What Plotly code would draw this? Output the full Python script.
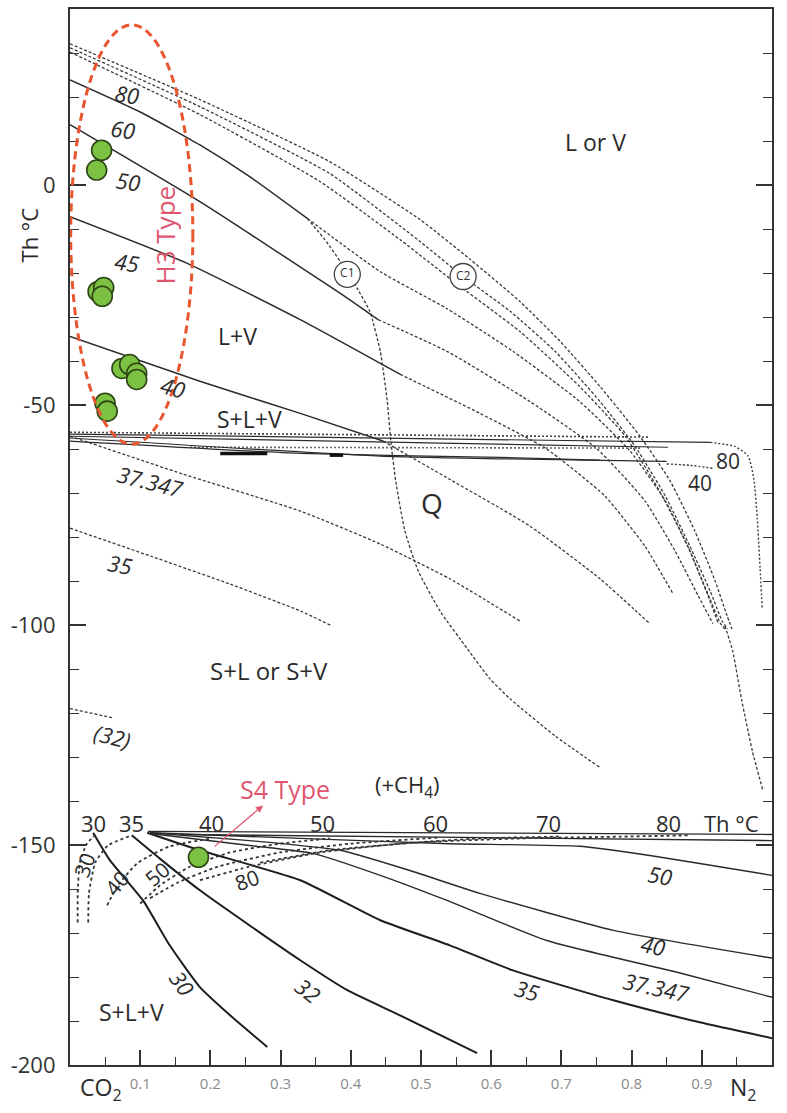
import plotly.graph_objects as go

FONT = "Open Sans"

# ---------------- data: x = mole fraction N2 (CO2 -> N2), y = Th (°C) ----------------
# fluid inclusion measurements
h3_x = [0.045, 0.038, 0.040, 0.048, 0.046, 0.074, 0.085, 0.095, 0.095, 0.050, 0.053]
h3_y = [7.9, 3.4, -24.2, -23.3, -25.3, -41.7, -40.8, -42.8, -44.2, -49.6, -51.4]
s4_x = [0.183]
s4_y = [-152.8]

# solid isochores, L+V field
iso80_x = [0.0, 0.100, 0.185, 0.256, 0.338]
iso80_y = [23.9, 16.6, 9.1, 1.9, -7.6]
iso60_x = [0.0, 0.185, 0.396, 0.439]
iso60_y = [13.7, -3.8, -25.8, -30.6]
iso45_x = [0.0, 0.167, 0.328, 0.470]
iso45_y = [-7.2, -17.8, -30.6, -43.0]
iso40_x = [0.0, 0.185, 0.328, 0.446]
iso40_y = [-34.4, -44.6, -51.9, -58.2]

# dashed curves (upper fan)
u1_x = [0.0, 0.185, 0.370, 0.499, 0.570, 0.641, 0.698, 0.755, 0.812, 0.855, 0.890, 0.919, 0.936, 0.943]
u1_y = [32.1, 19.4, 5.3, -7.9, -16.9, -26.5, -35.5, -45.8, -57.1, -67.3, -78.6, -90.0, -97.9, -100.9]
u2_x = [0.0, 0.185, 0.370, 0.499, 0.560, 0.627, 0.691, 0.755, 0.805, 0.848, 0.883, 0.912, 0.929, 0.937]
u2_y = [31.2, 17.8, 2.6, -12.9, -20.8, -28.7, -37.8, -49.2, -59.4, -70.7, -82.1, -92.3, -99.1, -100.9]
u3_x = [0.0, 0.185, 0.356, 0.470, 0.556, 0.641, 0.726, 0.791, 0.840, 0.880, 0.907, 0.926, 0.933]
u3_y = [30.2, 16.0, 0.8, -12.4, -23.1, -33.3, -45.8, -57.1, -69.6, -82.1, -92.3, -99.5, -100.9]
a_cont_x = [0.338, 0.442, 0.537, 0.631, 0.726, 0.798, 0.848, 0.883, 0.909, 0.923]
a_cont_y = [-7.6, -19.7, -28.1, -37.8, -49.2, -60.5, -71.8, -83.2, -93.4, -99.5]
b_cont_x = [0.439, 0.537, 0.655, 0.751, 0.819, 0.862, 0.895, 0.916]
b_cont_y = [-30.6, -37.8, -49.2, -60.0, -71.8, -83.2, -93.4, -99.7]
c_cont_x = [0.470, 0.584, 0.679, 0.762, 0.819, 0.859]
c_cont_y = [-43.0, -51.9, -60.0, -70.7, -82.1, -92.9]
d_cont_x = [0.446, 0.541, 0.655, 0.755, 0.826]
d_cont_y = [-58.2, -66.9, -77.5, -89.5, -99.7]
v37_x = [0.0, 0.161, 0.328, 0.442, 0.541, 0.641]
v37_y = [-57.1, -65.7, -74.1, -81.6, -89.5, -99.1]
v35_x = [0.0, 0.114, 0.228, 0.328, 0.373]
v35_y = [-78.0, -84.3, -90.7, -96.8, -100.2]
v32_x = [0.0, 0.061]
v32_y = [-119.0, -121.1]
q_x = [0.338, 0.363, 0.385, 0.395, 0.409, 0.427, 0.442, 0.452, 0.457, 0.464, 0.477, 0.496,
       0.527, 0.566, 0.598, 0.627, 0.691, 0.755]
q_y = [-7.6, -12.4, -17.4, -20.3, -23.5, -28.7, -37.8, -49.2, -58.2, -67.3, -78.6, -87.7,
       -96.8, -105.4, -112.2, -116.8, -125.2, -132.4]
r80_x = [0.912, 0.947, 0.966, 0.974, 0.979, 0.983, 0.986]
r80_y = [-58.5, -59.4, -61.6, -66.6, -75.7, -87.0, -96.1]
r40_x = [0.850, 0.883, 0.916]
r40_y = [-63.4, -63.7, -64.4]
conv_x = [0.933, 0.944, 0.957, 0.972, 0.987]
conv_y = [-100.2, -105.9, -117.2, -128.6, -137.6]

# S+L+V three-phase bundle (upper)
hdot1_x = [0.0, 0.826]; hdot1_y = [-56.2, -57.3]
hsol1_x = [0.0, 0.912]; hsol1_y = [-56.6, -58.5]
hsol2_x = [0.0, 0.852]; hsol2_y = [-57.1, -59.6]
hdot2_x = [0.171, 0.812]; hdot2_y = [-59.6, -59.8]
hsol3_x = [0.0, 0.442, 0.850]; hsol3_y = [-57.5, -61.6, -62.8]
hsol4_x = [0.0, 0.328, 0.613, 0.755]; hsol4_y = [-58.2, -61.0, -61.9, -62.5]
hbold1_x = [0.214, 0.281]; hbold1_y = [-61.0, -61.0]
hbold2_x = [0.370, 0.389]; hbold2_y = [-61.4, -61.4]

# lower solid isochores (+CH4)
l30_x = [0.033, 0.057, 0.104, 0.142, 0.185, 0.228, 0.281]
l30_y = [-147.2, -153.5, -162.6, -172.8, -182.3, -188.7, -195.9]
l32_x = [0.088, 0.128, 0.185, 0.256, 0.328, 0.395, 0.470, 0.580]
l32_y = [-147.8, -153.1, -160.3, -168.3, -176.2, -183.0, -188.7, -197.3]
l35_x = [0.110, 0.185, 0.328, 0.442, 0.541, 0.631, 0.774, 0.897, 1.0]
l35_y = [-147.2, -151.2, -158.0, -167.1, -172.8, -178.5, -185.3, -190.3, -193.9]
l37_x = [0.114, 0.256, 0.346, 0.442, 0.537, 0.679, 0.869, 1.0]
l37_y = [-147.4, -150.1, -151.9, -156.9, -162.6, -171.7, -179.1, -184.6]
l40_x = [0.114, 0.256, 0.385, 0.484, 0.584, 0.774, 1.0]
l40_y = [-147.2, -149.0, -151.2, -155.8, -161.0, -169.4, -175.7]
l50_x = [0.114, 0.328, 0.541, 0.726, 0.826, 0.897, 1.0]
l50_y = [-147.2, -148.5, -149.7, -150.3, -152.4, -154.2, -156.9]
ltop1_x = [0.111, 1.0]; ltop1_y = [-146.9, -147.6]
ltop2_x = [0.157, 1.0]; ltop2_y = [-147.6, -149.0]

# lower dotted isotherms
t1_x = [0.011, 0.011, 0.014, 0.024, 0.038]; t1_y = [-167.6, -161.0, -154.0, -149.7, -147.4]
t2_x = [0.026, 0.027, 0.036, 0.054, 0.088]; t2_y = [-167.6, -161.0, -154.0, -150.1, -147.8]
t3_x = [0.053, 0.068, 0.097, 0.142, 0.202]; t3_y = [-163.7, -159.2, -154.0, -150.3, -148.5]
t4_x = [0.100, 0.128, 0.171, 0.228, 0.299, 0.370]; t4_y = [-163.3, -159.2, -154.9, -151.7, -149.7, -148.5]
t5_x = [0.114, 0.154, 0.211, 0.299, 0.399, 0.527]; t5_y = [-162.1, -158.5, -154.9, -151.7, -149.7, -148.3]
t6_x = [0.185, 0.256, 0.356, 0.470, 0.584, 0.698]; t6_y = [-158.0, -154.9, -151.7, -149.7, -148.5, -148.1]
t7_x = [0.271, 0.370, 0.499, 0.641, 0.783, 0.883]; t7_y = [-154.0, -151.2, -149.4, -148.5, -148.1, -147.8]

# critical points
crit_x = [0.395, 0.560]
crit_y = [-20.3, -20.8]
crit_text = ["C1", "C2"]

x_tick_vals = [0.1, 0.2, 0.3, 0.4, 0.5, 0.6, 0.7, 0.8, 0.9]
x_tick_text = ["0.1", "0.2", "0.3", "0.4", "0.5", "0.6", "0.7", "0.8", "0.9"]
y_tick_vals = [-200, -150, -100, -50, 0]
y_tick_text = ["-200", "-150", "-100", "-50", "0"]

# ---------------- figure ----------------
fig = go.Figure()
INK = "#2b2b2b"


def line(xs, ys, width=1.3, dash=None, color=INK, smooth=True):
    fig.add_trace(go.Scatter(
        x=xs, y=ys, mode="lines",
        line=dict(width=width, dash=dash, color=color,
                  shape="spline" if smooth else "linear", smoothing=0.5),
        hoverinfo="skip", showlegend=False))


DASH = "3px,2px"
for xs, ys in [(u1_x, u1_y), (u2_x, u2_y), (u3_x, u3_y), (a_cont_x, a_cont_y),
               (b_cont_x, b_cont_y), (c_cont_x, c_cont_y), (d_cont_x, d_cont_y),
               (v37_x, v37_y), (v35_x, v35_y), (v32_x, v32_y), (q_x, q_y),
               (conv_x, conv_y)]:
    line(xs, ys, 1.3, DASH, "#3a3a3a")
line(r80_x, r80_y, 1.4, "2px,2px", "#3a3a3a")
line(r40_x, r40_y, 1.4, "2px,2px", "#3a3a3a")

for xs, ys in [(iso80_x, iso80_y), (iso60_x, iso60_y), (iso45_x, iso45_y), (iso40_x, iso40_y)]:
    line(xs, ys, 1.5)

line(hdot1_x, hdot1_y, 1.6, "2px,2px", "#444")
line(hsol1_x, hsol1_y, 1.2)
line(hsol2_x, hsol2_y, 1.2)
line(hdot2_x, hdot2_y, 1.6, "2px,2px", "#666")
line(hsol3_x, hsol3_y, 1.2)
line(hsol4_x, hsol4_y, 1.2)
line(hbold1_x, hbold1_y, 3.5, None, "#111")
line(hbold2_x, hbold2_y, 3.5, None, "#111")

for xs, ys in [(l30_x, l30_y), (l32_x, l32_y), (l35_x, l35_y)]:
    line(xs, ys, 2.0, None, "#1e1e1e")
for xs, ys in [(l37_x, l37_y), (l40_x, l40_y), (l50_x, l50_y), (ltop1_x, ltop1_y), (ltop2_x, ltop2_y)]:
    line(xs, ys, 1.4, None, "#2a2a2a")
for xs, ys in [(t1_x, t1_y), (t2_x, t2_y), (t3_x, t3_y), (t4_x, t4_y), (t5_x, t5_y),
               (t6_x, t6_y), (t7_x, t7_y)]:
    line(xs, ys, 1.8, "dot", "#333")

# critical point circles
fig.add_trace(go.Scatter(
    x=crit_x, y=crit_y, mode="markers+text", text=crit_text, textposition="middle center",
    textfont=dict(size=12, color="#333", family=FONT),
    marker=dict(size=26, color="white", line=dict(width=1.3, color="#444")),
    hoverinfo="skip", showlegend=False))

# green data points
GREEN = "#7cc142"
fig.add_trace(go.Scatter(
    x=h3_x, y=h3_y, mode="markers",
    marker=dict(size=20, color=GREEN, line=dict(width=1.6, color="#2c4415")),
    hoverinfo="skip", showlegend=False))
fig.add_trace(go.Scatter(
    x=s4_x, y=s4_y, mode="markers",
    marker=dict(size=20, color=GREEN, line=dict(width=1.6, color="#2c4415")),
    hoverinfo="skip", showlegend=False))

# H3 ellipse
fig.add_shape(type="circle", xref="x", yref="y", x0=0.001, x1=0.175, y0=-58.9, y1=36.4,
              line=dict(color="#e8552f", width=3, dash="8px,5px"))

PINK = "#e0566f"


def label(text, x, y, size=22, angle=0, color=INK, italic=False, xref="x", yref="y",
          yanchor="middle"):
    fig.add_annotation(x=x, y=y, xref=xref, yref=yref, yanchor=yanchor,
                       text=f"<i>{text}</i>" if italic else text,
                       showarrow=False, textangle=angle,
                       font=dict(size=size, color=color, family=FONT))


# upper isochore labels
label("80", 0.081, 20.7, 22, 8, italic=True)
label("60", 0.075, 12.8, 22, 8, italic=True)
label("50", 0.083, 0.8, 22, 8, italic=True)
label("45", 0.081, -17.4, 22, 8, italic=True)
label("40", 0.147, -45.8, 22, 15, italic=True)
label("37.347", 0.114, -67.3, 22, 14, italic=True)
label("35", 0.071, -86.1, 22, 10, italic=True)
label("(32)", 0.060, -125.2, 22, 14, italic=True)
label("80", 0.937, -62.8, 21)
label("40", 0.897, -67.8, 21)

# field labels
label("L or V", 0.748, 9.8, 23)
label("L+V", 0.238, -34.4, 23)
label("S+L+V", 0.256, -53.2, 23)
label("Q", 0.516, -72.3, 28)
label("S+L or S+V", 0.283, -110.4, 24)
label("(+CH<sub>4</sub>)", 0.480, -136.5, 22)
label("S+L+V", 0.088, -188.0, 23)
label("H3 Type", 0.135, -11.3, 26, -90, PINK)
label("S4 Type", 0.306, -137.2, 25, 0, PINK)

# lower Th labels along top line
for t, xv in zip(["30", "35", "40", "50", "60", "70", "80"],
                 [0.033, 0.088, 0.202, 0.359, 0.520, 0.681, 0.852]):
    label(t, xv, -144.9, 22)
label("Th °C", 0.943, -144.9, 22)

# lower isochore labels
label("30", 0.160, -181.4, 22, 55, italic=True)
label("32", 0.339, -183.0, 22, 38, italic=True)
label("35", 0.651, -183.0, 22, 15, italic=True)
label("37.347", 0.836, -182.3, 22, 12, italic=True)
label("40", 0.830, -172.8, 22, 12, italic=True)
label("50", 0.840, -156.9, 22, 10, italic=True)
label("30", 0.021, -154.6, 21, -70)
label("40", 0.067, -158.7, 21, -50)
label("50", 0.124, -156.5, 21, -40)
label("80", 0.252, -158.0, 21, -20)

# S4 arrow
fig.add_annotation(x=0.275, y=-141.0, ax=0.204, ay=-150.6, xref="x", yref="y",
                   axref="x", ayref="y", text="", showarrow=True, arrowhead=2,
                   arrowsize=1.2, arrowwidth=1.2, arrowcolor=PINK)

# axis end labels and title
label("CO<sub>2</sub>", 0.012, -0.004, 23, yref="paper", xref="paper", yanchor="top")
label("N<sub>2</sub>", 0.982, -0.004, 23, yref="paper", xref="paper", yanchor="top")
fig.add_annotation(x=-0.083, y=-11.3, xref="paper", yref="y", text="Th °C", showarrow=False,
                   textangle=-90, font=dict(size=22, color=INK, family=FONT))

fig.update_layout(
    width=787, height=1113,
    margin=dict(l=70, r=15, t=7, b=48),
    paper_bgcolor="white", plot_bgcolor="white",
    showlegend=False, font=dict(family=FONT, color=INK),
)
fig.update_xaxes(
    range=[0, 1], tickmode="array", tickvals=x_tick_vals, ticktext=x_tick_text,
    ticks="inside", ticklen=15, tickwidth=1.5, tickcolor="#333",
    showline=True, linewidth=2.2, linecolor="#333", mirror=True,
    showgrid=False, zeroline=False,
    tickfont=dict(size=15, color="#8a8a8a", family=FONT), ticklabelstandoff=4,
    minor=dict(dtick=0.05, tick0=0, ticks="inside", ticklen=8, tickwidth=1.2, tickcolor="#333"),
)
fig.update_yaxes(
    range=[-200, 40], tickmode="array", tickvals=y_tick_vals, ticktext=y_tick_text,
    ticks="inside", ticklen=16, tickwidth=1.5, tickcolor="#333",
    showline=True, linewidth=2.2, linecolor="#333", mirror="ticks",
    showgrid=False, zeroline=False,
    tickfont=dict(size=22, color="#333", family=FONT), ticklabelstandoff=8,
    minor=dict(dtick=10, tick0=0, ticks="inside", ticklen=9, tickwidth=1.2, tickcolor="#333"),
)

fig.write_html("out.html")
